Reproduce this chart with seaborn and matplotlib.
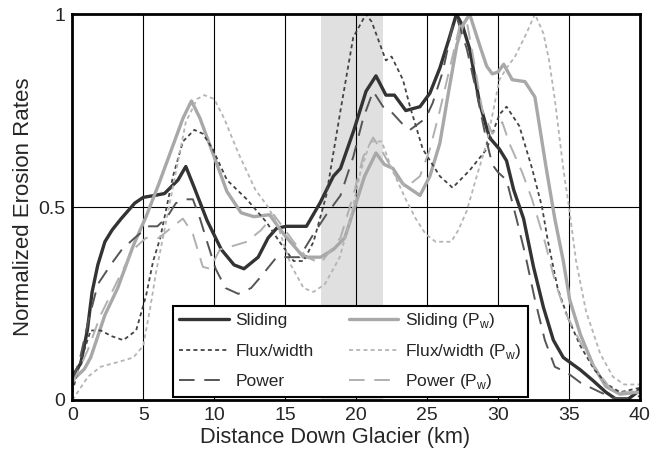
import matplotlib
matplotlib.use("Agg")
import matplotlib.pyplot as plt
import seaborn as sns
import pandas as pd

# distance down glacier (km) and normalized erosion rates
sliding_x = [0, 0.6, 1.06, 1.4, 1.8, 2.3, 2.8, 3.45, 4.4, 5.0, 5.8, 6.5, 7.45, 8.0, 8.6, 9.5, 10.5,
             11.4, 12.1, 13.1, 13.8, 14.4, 15.1, 16.5, 17.45, 18.4, 18.9, 19.85, 20.7, 21.4, 22.1,
             22.7, 23.5, 24.5, 25.2, 25.9, 26.5, 27.07, 27.5, 28.0, 28.7, 29.4, 30.1, 30.6, 31.1,
             31.8, 32.5, 33.2, 33.9, 34.6, 35.8, 36.7, 37.6, 38.4, 39.1, 39.8, 40]
sliding_y = [0.06, 0.095, 0.18, 0.28, 0.35, 0.41, 0.44, 0.47, 0.51, 0.525, 0.53, 0.535, 0.57, 0.605,
             0.55, 0.465, 0.39, 0.35, 0.34, 0.37, 0.42, 0.445, 0.45, 0.45, 0.51, 0.58, 0.60, 0.70,
             0.80, 0.84, 0.79, 0.79, 0.75, 0.76, 0.795, 0.86, 0.93, 1.0, 0.97, 0.91, 0.77, 0.68,
             0.65, 0.62, 0.545, 0.47, 0.345, 0.24, 0.155, 0.11, 0.078, 0.05, 0.02, 0.0, 0.0, 0.02,
             0.03]

flux_x = [0, 0.5, 0.85, 1.3, 2.0, 2.8, 3.6, 4.5, 5.2, 5.7, 6.2, 7.1, 7.8, 8.6, 9.2, 9.9, 10.9, 12.3,
          13.7, 14.6, 15.6, 16.3, 17.0, 17.9, 18.9, 19.8, 20.7, 21.1, 21.6, 22.1, 22.5, 23.3, 23.8,
          24.7, 25.9, 26.8, 28.0, 29.2, 30.1, 30.6, 31.5, 32.4, 33.1, 33.5, 34.2, 34.9, 35.8, 36.8,
          37.7, 38.6, 39.8, 40]
flux_y = [0.02, 0.09, 0.13, 0.18, 0.18, 0.165, 0.155, 0.18, 0.27, 0.36, 0.42, 0.58, 0.67, 0.70,
          0.69, 0.65, 0.57, 0.52, 0.46, 0.41, 0.36, 0.36, 0.41, 0.53, 0.75, 0.94, 1.0, 0.98, 0.93,
          0.88, 0.89, 0.83, 0.76, 0.65, 0.58, 0.55, 0.595, 0.65, 0.74, 0.76, 0.71, 0.60, 0.50,
          0.415, 0.29, 0.215, 0.14, 0.078, 0.04, 0.02, 0.03, 0.03]

power_x = [0, 0.5, 1.1, 1.8, 2.8, 3.5, 4.4, 5.4, 6.0, 6.7, 7.3, 8.0, 8.5, 9.0, 9.5, 10.1, 10.8, 11.7,
           12.6, 13.3, 14.4, 15.1, 16.0, 17.0, 17.9, 18.9, 19.8, 20.5, 21.2, 21.9, 22.4, 23.4, 23.8,
           24.9, 25.4, 26.1, 26.8, 27.1, 27.8, 28.5, 29.2, 29.6, 30.0, 30.6, 31.3, 31.9, 32.6, 33.3,
           34.0, 34.9, 35.8, 37.2, 38.1, 39.1, 40]
power_y = [0.05, 0.1, 0.2, 0.30, 0.355, 0.39, 0.42, 0.45, 0.45, 0.475, 0.51, 0.52, 0.52, 0.47, 0.41,
           0.34, 0.29, 0.275, 0.29, 0.32, 0.37, 0.37, 0.37, 0.43, 0.48, 0.53, 0.63, 0.73, 0.80, 0.76,
           0.75, 0.71, 0.70, 0.73, 0.77, 0.85, 0.97, 0.99, 0.91, 0.795, 0.67, 0.61, 0.59, 0.57,
           0.47, 0.38, 0.26, 0.155, 0.086, 0.07, 0.045, 0.02, 0.005, 0.005, 0.01]

sliding_pw_x = [0, 0.85, 1.3, 2.3, 3.2, 4.3, 5.2, 6.1, 7.1, 7.8, 8.4, 9.0, 10.0, 10.9, 11.9, 12.8,
                13.9, 14.9, 15.6, 16.3, 17.5, 18.4, 19.2, 19.9, 20.6, 21.4, 22.0, 22.6, 23.3, 24.5,
                25.2, 25.9, 26.5, 27.1, 27.5, 28.0, 28.7, 29.2, 29.6, 30.0, 30.4, 31.0, 31.9, 32.6,
                33.4, 34.0, 34.6, 35.05, 35.8, 36.7, 37.6, 38.6, 39.8, 40]
sliding_pw_y = [0.05, 0.08, 0.11, 0.22, 0.29, 0.40, 0.475, 0.56, 0.66, 0.73, 0.775, 0.73, 0.63, 0.54,
                0.485, 0.475, 0.48, 0.43, 0.40, 0.37, 0.37, 0.39, 0.42, 0.50, 0.58, 0.64, 0.61, 0.60,
                0.56, 0.53, 0.58, 0.665, 0.795, 0.92, 0.97, 1.0, 0.92, 0.865, 0.845, 0.85, 0.87,
                0.83, 0.825, 0.785, 0.60, 0.47, 0.36, 0.26, 0.17, 0.09, 0.035, 0.015, 0.02, 0.02]

flux_pw_x = [0, 0.2, 1.1, 2.0, 3.4, 4.3, 5.0, 5.5, 5.9, 6.6, 7.3, 8.0, 8.8, 9.3, 10.0, 10.7, 11.7,
             12.9, 13.8, 14.4, 15.4, 16.3, 17.0, 17.8, 18.85, 19.6, 20.3, 21.0, 21.8, 22.5, 23.5,
             24.2, 24.9, 25.6, 26.7, 27.2, 27.8, 28.5, 29.2, 30.1, 30.6, 31.2, 32.0, 32.6, 33.2,
             33.6, 34.0, 34.6, 35.0, 35.5, 36.2, 37.2, 38.1, 38.9, 39.8, 40]
flux_pw_y = [0.0, 0.01, 0.06, 0.086, 0.10, 0.11, 0.14, 0.24, 0.33, 0.46, 0.59, 0.72, 0.78, 0.79,
             0.78, 0.73, 0.64, 0.545, 0.50, 0.46, 0.35, 0.29, 0.28, 0.30, 0.37, 0.47, 0.59, 0.67,
             0.67, 0.60, 0.52, 0.47, 0.43, 0.41, 0.41, 0.44, 0.49, 0.58, 0.665, 0.83, 0.86, 0.89,
             0.95, 1.0, 0.95, 0.88, 0.78, 0.60, 0.50, 0.36, 0.23, 0.12, 0.06, 0.04, 0.04, 0.04]

power_pw_x = [0, 1.1, 2.0, 3.2, 4.3, 5.2, 6.1, 7.1, 7.8, 8.5, 9.2, 9.7, 10.4, 11.4, 12.3, 13.3, 14.2,
              14.6, 15.6, 16.5, 17.5, 18.9, 19.8, 20.5, 21.2, 21.9, 22.8, 23.5, 24.5, 25.2, 25.9,
              26.6, 27.3, 27.8, 28.2, 28.9, 29.6, 30.3, 30.8, 31.7, 32.4, 33.3, 34.0, 34.7, 35.8,
              36.7, 37.9, 38.8, 40]
power_pw_y = [0.04, 0.13, 0.22, 0.31, 0.39, 0.42, 0.42, 0.45, 0.47, 0.43, 0.345, 0.34, 0.39, 0.40,
              0.41, 0.44, 0.48, 0.46, 0.41, 0.37, 0.355, 0.42, 0.53, 0.63, 0.68, 0.64, 0.58, 0.55,
              0.58, 0.65, 0.75, 0.86, 0.97, 0.98, 0.9, 0.75, 0.69, 0.72, 0.665, 0.59, 0.52, 0.41,
              0.31, 0.23, 0.15, 0.09, 0.03, 0.02, 0.02]

shade_start, shade_end = 17.5, 21.9

sns.set_style("white")
plt.rcParams['font.family'] = ['Liberation Sans', 'DejaVu Sans']
plt.rcParams['mathtext.fontset'] = 'custom'
plt.rcParams['mathtext.rm'] = 'Liberation Sans'

fig = plt.figure(figsize=(6.51, 4.55), dpi=100)
ax = fig.add_axes([0.111, 0.121, 0.872, 0.848])

ax.axvspan(shade_start, shade_end, color='#e0e0e0', lw=0, zorder=0)
for gx in range(5, 40, 5):
    ax.axvline(gx, color='black', lw=0.8, zorder=1)
ax.axhline(0.5, color='black', lw=0.8, zorder=1)

series = [
    ("Sliding", sliding_x, sliding_y, '#333333', 2.4, None),
    ("Sliding (P$_\\mathrm{w}$)", sliding_pw_x, sliding_pw_y, '#a8a8a8', 2.4, None),
    ("Flux/width", flux_x, flux_y, '#444444', 1.3, (2.2, 1.8)),
    ("Flux/width (P$_\\mathrm{w}$)", flux_pw_x, flux_pw_y, '#b4b4b4', 1.3, (2.2, 1.8)),
    ("Power", power_x, power_y, '#555555', 1.4, (8, 5)),
    ("Power (P$_\\mathrm{w}$)", power_pw_x, power_pw_y, '#b0b0b0', 1.4, (8, 5)),
]

handles = {}
for name, xs, ys, col, lw, dash in series:
    df = pd.DataFrame({"x": xs, "y": ys})
    sns.lineplot(data=df, x="x", y="y", color=col, lw=lw, ax=ax, zorder=3, label=name)
    line = ax.get_lines()[-1]
    if dash is not None:
        line.set_dashes(dash)
    handles[name] = line

order = ["Sliding", "Flux/width", "Power",
         "Sliding (P$_\\mathrm{w}$)", "Flux/width (P$_\\mathrm{w}$)", "Power (P$_\\mathrm{w}$)"]
leg_fs = 12.5
leg = ax.legend([handles[k] for k in order], order, ncol=2, loc='lower left',
                bbox_to_anchor=(0.178, 0.0085), borderaxespad=0, fontsize=leg_fs, frameon=True,
                fancybox=False, framealpha=1, edgecolor='black', handlelength=2.87,
                handletextpad=0.4, columnspacing=2.0, labelspacing=0.5, borderpad=0.32)
leg.get_frame().set_linewidth(1.5)

# the subscripted labels are taller: give each column its own row gap so the rows line up
renderer = fig.canvas.get_renderer()
pt = renderer.points_to_pixels(1.0)
pitch_px = 30.5
for col in leg._legend_handle_box.get_children():
    row_h = max(r.get_bbox(renderer).height for r in col.get_children())
    col.sep = (pitch_px - row_h) / pt

ax.set_xlim(0, 40)
ax.set_ylim(0, 1)
ax.set_xticks(range(0, 41, 5))
ax.set_yticks([0, 0.5, 1])
ax.set_yticklabels(["0", "0.5", "1"])
ax.tick_params(length=0, labelsize=14, pad=5)
ax.set_xlabel("Distance Down Glacier (km)", fontsize=15.7, labelpad=2)
ax.xaxis.label.set_x(0.4625)
ax.set_ylabel("Normalized Erosion Rates", fontsize=16, labelpad=3)
for sp in ax.spines.values():
    sp.set_visible(True)
    sp.set_color('black')
    sp.set_linewidth(2)
    sp.set_zorder(5)

fig.savefig("out.png", dpi=100)
